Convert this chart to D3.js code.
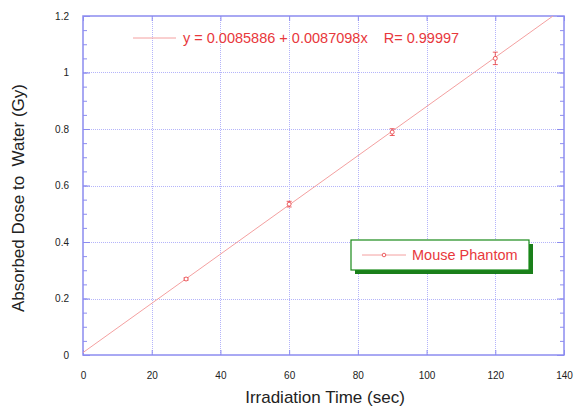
<!DOCTYPE html>
<html>
<head>
<meta charset="utf-8">
<script src="https://cdn.jsdelivr.net/npm/d3@7"></script>
<style>
  body { margin: 0; background: #fff; }
  svg text { font-family: "Liberation Sans", Arial, sans-serif; }
</style>
</head>
<body>
<svg id="chart" width="574" height="409"></svg>
<script>
// measured points
const times = [30, 60, 90, 120];
const doses = [0.269, 0.534, 0.789, 1.050];
const errs = [0.004, 0.010, 0.012, 0.022];

// linear fit
const fit_a = 0.0085886;
const fit_b = 0.0087098;
const fit_text = 'y = 0.0085886 + 0.0087098x \u00a0\u00a0 R= 0.99997';

const x_ticks = [0, 20, 40, 60, 80, 100, 120, 140];
const y_ticks = [0, 0.2, 0.4, 0.6, 0.8, 1, 1.2];
const series_name = 'Mouse Phantom';

const axis_col = '#8c8cf0';
const grid_col = '#b4b4fa';
const red = '#e8383c';
const line_red = '#f4a0a0';

const svg = d3.select('#chart');
const m_left = 83, m_right = 564, m_top = 16, m_bottom = 355;

const x = d3.scaleLinear().domain([0, 140]).range([m_left, m_right]);
const y = d3.scaleLinear().domain([0, 1.2]).range([m_bottom, m_top]);

svg.append('clipPath').attr('id', 'plot')
  .append('rect').attr('x', m_left).attr('y', m_top)
  .attr('width', m_right - m_left).attr('height', m_bottom - m_top);

// grid
const grid = svg.append('g');
grid.selectAll('line.gx').data(x_ticks.slice(1, -1)).join('line')
  .attr('x1', d => Math.round(x(d)) + 0.5).attr('x2', d => Math.round(x(d)) + 0.5)
  .attr('y1', m_top).attr('y2', m_bottom)
  .attr('stroke', grid_col).attr('stroke-dasharray', '1,1');
grid.selectAll('line.gy').data(y_ticks.slice(1, -1)).join('line')
  .attr('y1', d => Math.round(y(d)) + 0.5).attr('y2', d => Math.round(y(d)) + 0.5)
  .attr('x1', m_left).attr('x2', m_right)
  .attr('stroke', grid_col).attr('stroke-dasharray', '1,1');

// axes, ticks pointing inward
const minor_y = d3.range(0, 1.2001, 0.05);
const styleAxis = g => {
  g.select('.domain').remove();
  g.selectAll('.tick line').attr('stroke', axis_col);
  g.selectAll('.tick text').attr('fill', '#222').style('font-size', '10px');
};
svg.append('g').attr('transform', `translate(0,${m_bottom})`)
  .call(d3.axisTop(x).tickValues(x_ticks).tickSize(5).tickFormat(d3.format('d')))
  .call(g => {
    styleAxis(g);
    g.selectAll('.tick text').attr('y', 17).attr('dy', '0.71em');
  });
svg.append('g').attr('transform', `translate(0,${m_top})`)
  .call(d3.axisBottom(x).tickValues(x_ticks).tickSize(5).tickFormat(''))
  .call(styleAxis);
svg.append('g').attr('transform', `translate(${m_left},0)`)
  .call(d3.axisRight(y).tickValues(minor_y).tickSize(4).tickFormat(''))
  .call(styleAxis);
svg.append('g').attr('transform', `translate(${m_left},0)`)
  .call(d3.axisRight(y).tickValues(y_ticks).tickSize(7).tickFormat(d3.format('~g')))
  .call(g => {
    styleAxis(g);
    g.selectAll('.tick text').attr('x', -14).attr('text-anchor', 'end');
  });
svg.append('g').attr('transform', `translate(${m_right},0)`)
  .call(d3.axisLeft(y).tickValues(minor_y).tickSize(4).tickFormat(''))
  .call(styleAxis);
svg.append('g').attr('transform', `translate(${m_right},0)`)
  .call(d3.axisLeft(y).tickValues(y_ticks).tickSize(7).tickFormat(''))
  .call(styleAxis);

svg.append('rect').attr('x', m_left).attr('y', m_top)
  .attr('width', m_right - m_left).attr('height', m_bottom - m_top)
  .attr('fill', 'none').attr('stroke', axis_col).attr('stroke-width', 1.5);

// fit line
const fit_x = [0, 140];
svg.append('path')
  .attr('clip-path', 'url(#plot)')
  .attr('d', d3.line().x(d => x(d)).y(d => y(fit_a + fit_b * d))(fit_x))
  .attr('fill', 'none').attr('stroke', line_red).attr('stroke-width', 1);

// error bars + markers
const pts = times.map((t, i) => ({ t, v: doses[i], e: errs[i] }));
const pg = svg.append('g').attr('stroke', red).attr('fill', 'none').attr('stroke-width', 0.8);
pg.selectAll('path.err').data(pts).join('path')
  .attr('d', d => {
    const cx = x(d.t), y1 = y(d.v + d.e), y2 = y(d.v - d.e);
    return `M${cx - 2.5},${y1}H${cx + 2.5}M${cx},${y1}V${y2}M${cx - 2.5},${y2}H${cx + 2.5}`;
  });
pg.selectAll('circle').data(pts).join('circle')
  .attr('cx', d => x(d.t)).attr('cy', d => y(d.v)).attr('r', 2)
  .attr('fill', '#fff');

// fit legend
svg.append('line').attr('x1', 133).attr('x2', 176).attr('y1', 38).attr('y2', 38)
  .attr('stroke', line_red);
svg.append('text').attr('x', 183).attr('y', 43).attr('fill', red)
  .style('font-size', '14.5px').text(fit_text);

// series legend box
const lg = svg.append('g').attr('transform', 'translate(351,240)');
lg.append('rect').attr('x', 4).attr('y', 4).attr('width', 178).attr('height', 30).attr('fill', '#1a7f1a');
lg.append('rect').attr('x', 0).attr('y', 0).attr('width', 178).attr('height', 30)
  .attr('fill', '#fff').attr('stroke', '#1a8a1a').attr('stroke-width', 1.2);
lg.append('line').attr('x1', 11).attr('x2', 55).attr('y1', 15).attr('y2', 15).attr('stroke', line_red);
lg.append('circle').attr('cx', 33).attr('cy', 15).attr('r', 1.8).attr('fill', '#fff').attr('stroke', red).attr('stroke-width', 0.8);
lg.append('text').attr('x', 61).attr('y', 20).attr('fill', red).style('font-size', '14.5px').text(series_name);

// axis titles
svg.append('text').attr('x', 325).attr('y', 403).attr('text-anchor', 'middle')
  .style('font-size', '17px').attr('fill', '#222').text('Irradiation Time (sec)');
svg.append('text').attr('transform', 'translate(24,198) rotate(-90)')
  .attr('text-anchor', 'middle').style('font-size', '17px').attr('fill', '#222')
  .text('Absorbed Dose to \u00a0Water (Gy)');
</script>
</body>
</html>
